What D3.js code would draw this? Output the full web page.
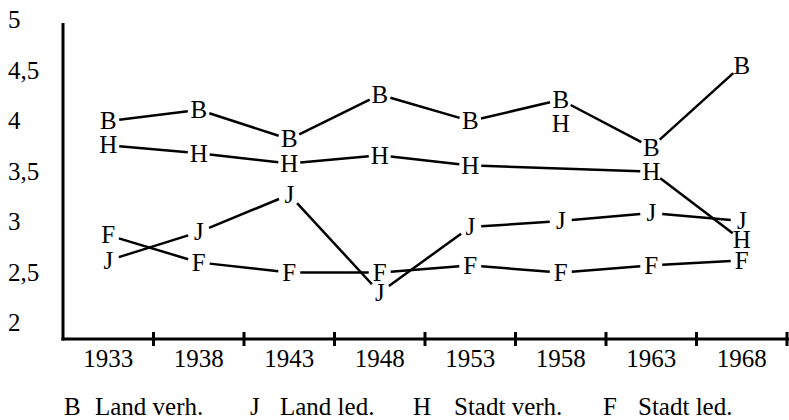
<!DOCTYPE html>
<html><head><meta charset="utf-8">
<script src="https://cdn.jsdelivr.net/npm/d3@7"></script>
<style>html,body{margin:0;padding:0;background:#fff;} svg{display:block;}</style>
</head><body><svg id="c" width="789" height="420"></svg>
<script>
// ---- data ----
const years = ["1933","1938","1943","1948","1953","1958","1963","1968"];
const yTickValues = [5, 4.5, 4, 3.5, 3, 2.5, 2];
const yTickLabels = ["5","4,5","4","3,5","3","2,5","2"];
const seriesKeys = ["B","J","H","F"];
const seriesNames = ["Land verh.","Land led.","Stadt verh.","Stadt led."];
const valuesB = [4.00, 4.11, 3.82, 4.26, 4.00, 4.21, 3.74, 4.55];
const valuesJ = [2.62, 2.90, 3.27, 2.30, 2.95, 3.01, 3.09, 3.01];
const valuesH = [3.76, 3.68, 3.58, 3.66, 3.56, 3.97, 3.50, 2.82];
const valuesF = [2.87, 2.60, 2.50, 2.50, 2.57, 2.50, 2.57, 2.62];
// H at 1958 is printed but not joined by the line
const connectedH = [true, true, true, true, true, false, true, true];

// ---- layout ----
const W = 789, H = 420;
const FONT = "'Liberation Serif','Times New Roman',serif";
const FS = 25;
const axisX = 63, axisY = 339, axisTop = 23;
const legendKeyX = [64, 250, 413, 603];
const legendNameX = [95, 280, 454, 638];
const legendY = 415;

const svg = d3.select("#c");
svg.append("rect").attr("width", W).attr("height", H).attr("fill", "#fff");

const x = d3.scaleBand().domain(years).range([axisX, 787]).paddingInner(0).paddingOuter(0);
const y = d3.scaleLinear().domain([2, 5]).range([323, 20]);
const cx = d => x(d) + x.bandwidth() / 2;

// axes
svg.append("line").attr("x1", axisX).attr("x2", axisX).attr("y1", axisTop).attr("y2", axisY + 1.5)
  .attr("stroke", "#000").attr("stroke-width", 3);
svg.append("line").attr("x1", axisX - 1.5).attr("x2", W).attr("y1", axisY).attr("y2", axisY)
  .attr("stroke", "#000").attr("stroke-width", 3);
svg.append("g").selectAll("line").data(years).join("line")
  .attr("x1", d => x(d) + x.bandwidth()).attr("x2", d => x(d) + x.bandwidth())
  .attr("y1", axisY - 7).attr("y2", axisY + 7)
  .attr("stroke", "#000").attr("stroke-width", 3);

// x labels
svg.append("g").selectAll("text").data(years).join("text")
  .attr("x", d => cx(d)).attr("y", 367)
  .attr("text-anchor", "middle").attr("font-family", FONT).attr("font-size", FS)
  .attr("fill", "#000").text(d => d);

// y labels
svg.append("g").selectAll("text").data(yTickValues).join("text")
  .attr("x", 8).attr("y", d => y(d) + FS * 0.33)
  .attr("font-family", FONT).attr("font-size", FS).attr("fill", "#000")
  .text((d, i) => yTickLabels[i]);

// series
const allValues = [valuesB, valuesJ, valuesH, valuesF];
const allConnected = [null, null, connectedH, null];
const rx = 11, ry = 12;
function trim(p, q) {
  const dx = q[0] - p[0], dy = q[1] - p[1];
  const len = Math.hypot(dx, dy);
  const ux = dx / len, uy = dy / len;
  const t = 1 / Math.sqrt((ux / rx) ** 2 + (uy / ry) ** 2);
  return [[p[0] + ux * t, p[1] + uy * t], [q[0] - ux * t, q[1] - uy * t]];
}
const segG = svg.append("g");
const lblG = svg.append("g");
allValues.forEach((vals, si) => {
  const conn = allConnected[si];
  const pts = years.map((yr, i) => ({ yr, v: vals[i], c: conn ? conn[i] : true }));
  const linked = pts.filter(p => p.c).map(p => [cx(p.yr), y(p.v)]);
  const segs = [];
  for (let i = 0; i < linked.length - 1; i++) segs.push(trim(linked[i], linked[i + 1]));
  segG.selectAll(null).data(segs).join("line")
    .attr("x1", d => d[0][0]).attr("y1", d => d[0][1])
    .attr("x2", d => d[1][0]).attr("y2", d => d[1][1])
    .attr("stroke", "#000").attr("stroke-width", 2.5).attr("stroke-linecap", "butt");
  lblG.selectAll(null).data(pts).join("text")
    .attr("x", d => cx(d.yr)).attr("y", d => y(d.v) + FS * 0.33)
    .attr("text-anchor", "middle").attr("font-family", FONT).attr("font-size", FS)
    .attr("fill", "#000").text(seriesKeys[si]);
});

// legend
const lg = svg.append("g");
seriesKeys.forEach((k, i) => {
  lg.append("text").attr("x", legendKeyX[i]).attr("y", legendY)
    .attr("font-family", FONT).attr("font-size", FS).attr("fill", "#000").text(k);
  lg.append("text").attr("x", legendNameX[i]).attr("y", legendY)
    .attr("font-family", FONT).attr("font-size", FS).attr("fill", "#000").text(seriesNames[i]);
});
</script>
</body></html>
